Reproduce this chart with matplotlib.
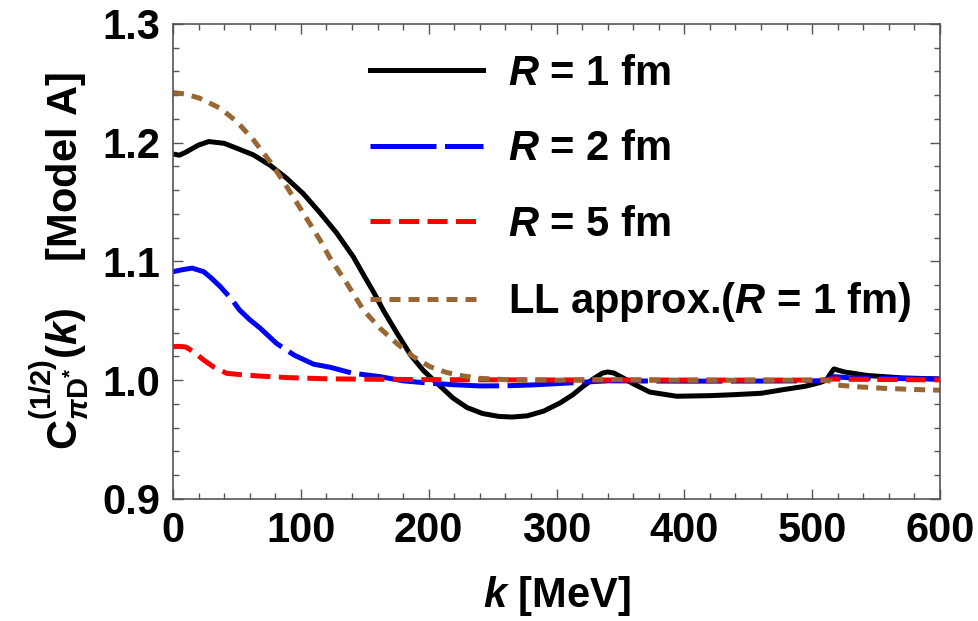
import numpy as np
import matplotlib
matplotlib.use('Agg')
import matplotlib.pyplot as plt

plt.rcParams['font.family'] = ['Liberation Sans', 'DejaVu Sans']
plt.rcParams['font.weight'] = 'bold'
plt.rcParams['mathtext.fontset'] = 'custom'
plt.rcParams['mathtext.rm'] = 'Liberation Sans:bold'
plt.rcParams['mathtext.it'] = 'Liberation Sans:italic:bold'
plt.rcParams['mathtext.bf'] = 'Liberation Sans:bold'

# R = 1 fm
k_r1 = [0, 5, 10, 20, 28, 40, 50, 63, 76, 89, 102, 115, 128, 141, 150, 157, 165,
        175, 186, 196, 206, 219, 230, 242, 255, 265, 277, 290, 303, 313, 321, 330,
        336, 340, 345, 352, 360, 373, 394, 420, 438, 460, 477, 495, 506, 511, 514,
        517, 525, 543, 570, 600]
c_r1 = [1.1905, 1.1895, 1.192, 1.198, 1.201, 1.1995, 1.1953, 1.1897, 1.181, 1.170,
        1.157, 1.141, 1.124, 1.104, 1.087, 1.074, 1.058, 1.040, 1.021, 1.008,
        0.998, 0.985, 0.977, 0.972, 0.9695, 0.969, 0.970, 0.974, 0.981, 0.988,
        0.995, 1.002, 1.006, 1.007, 1.006, 1.002, 0.997, 0.990, 0.9865, 0.987,
        0.9878, 0.989, 0.992, 0.995, 0.998, 1.000, 1.005, 1.0095, 1.007, 1.004,
        1.002, 1.001]

# R = 2 fm
k_r2 = [0, 7, 15, 24, 30, 37, 46, 52, 60, 68, 81, 95, 110, 123, 140, 162, 180, 201,
        220, 240, 260, 280, 298, 315, 340, 400, 460, 505, 512, 517, 530, 560, 600]
c_r2 = [1.0914, 1.093, 1.0944, 1.0914, 1.086, 1.0788, 1.068, 1.0592, 1.051, 1.044,
        1.031, 1.021, 1.0135, 1.0109, 1.006, 1.003, 0.9995, 0.9975, 0.9962, 0.9952,
        0.9953, 0.996, 0.997, 0.998, 0.9995, 0.9992, 0.9993, 0.9995, 1.0005, 1.003,
        1.002, 1.0015, 1.001]

# R = 5 fm
k_r5 = [0, 5, 10, 16, 24, 32, 42, 55, 68, 90, 120, 160, 200, 260, 340, 420, 510,
        516, 530, 600]
c_r5 = [1.0283, 1.0285, 1.028, 1.024, 1.017, 1.011, 1.0058, 1.0045, 1.0035, 1.0022,
        1.0012, 1.0008, 1.0005, 1.0003, 1.0002, 1.0001, 1.0001, 1.001, 1.0008, 1.0003]

# LL approximation, R = 1 fm
k_ll = [0, 10, 21, 37, 50, 63, 76, 89, 102, 115, 123, 136, 149, 162, 175, 188, 201,
        214, 227, 240, 264, 300, 335, 345, 400, 510, 515, 519, 535, 556, 580, 600]
c_ll = [1.2422, 1.241, 1.2374, 1.229, 1.2177, 1.2023, 1.184, 1.163, 1.1406, 1.118,
        1.1025, 1.0816, 1.059, 1.0437, 1.031, 1.0198, 1.0114, 1.0065, 1.0036, 1.0016,
        1.0003, 1.0, 1.0005, 1.0005, 1.0, 1.0, 0.999, 0.996, 0.9945, 0.9932, 0.9922,
        0.9916]

labels = ['$R$ = 1 fm', '$R$ = 2 fm', '$R$ = 5 fm', 'LL approx.($R$ = 1 fm)']

fig = plt.figure(figsize=(9.79, 6.21), dpi=100)
ax = fig.add_axes([0.1767, 0.1965, 0.7835, 0.7649])

lw = 3.6
ax.plot(k_r1, c_r1, color='black', lw=lw, label=labels[0])
ax.plot(k_r2, c_r2, color='#0000ff', lw=lw, dashes=(13.2, 1.7), label=labels[1])
ax.plot(k_r5, c_r5, color='#ff0000', lw=lw, dashes=(4.0, 1.7), label=labels[2])
ax.plot(k_ll, c_ll, color='#996633', lw=lw, dashes=(2.2, 1.6), label=labels[3])

ax.set_xlim(0, 600)
ax.set_ylim(0.9, 1.3)
ax.set_xticks(np.arange(0, 601, 100))
ax.set_xticks(np.arange(0, 601, 20), minor=True)
ax.set_yticks(np.arange(0.9, 1.31, 0.1))
ax.set_yticks(np.arange(0.9, 1.301, 0.02), minor=True)
ax.set_yticklabels(['0.9', '1.0', '1.1', '1.2', '1.3'])

ax.tick_params(which='both', direction='in', top=True, right=True,
               color='#555555', width=1.0, labelsize=30, pad=9)
ax.tick_params(which='major', length=7)
ax.tick_params(which='minor', length=4)
for s in ax.spines.values():
    s.set_color('#555555')
    s.set_linewidth(1.2)

ax.set_xlabel('$k$ [MeV]', fontsize=30, fontweight='bold', labelpad=16)
ax.set_ylabel(r'$\mathrm{C}^{(1/2)}_{\pi\mathrm{D}^{*}}(k)$    [Model A]',
              fontsize=30, fontweight='bold', labelpad=8)

leg = ax.legend(loc='upper left', bbox_to_anchor=(0.257, 0.937), frameon=False,
                fontsize=30, handlelength=2.7, handletextpad=0.62,
                labelspacing=0.85, borderpad=0, borderaxespad=0)

fig.savefig('out.png', dpi=100)
